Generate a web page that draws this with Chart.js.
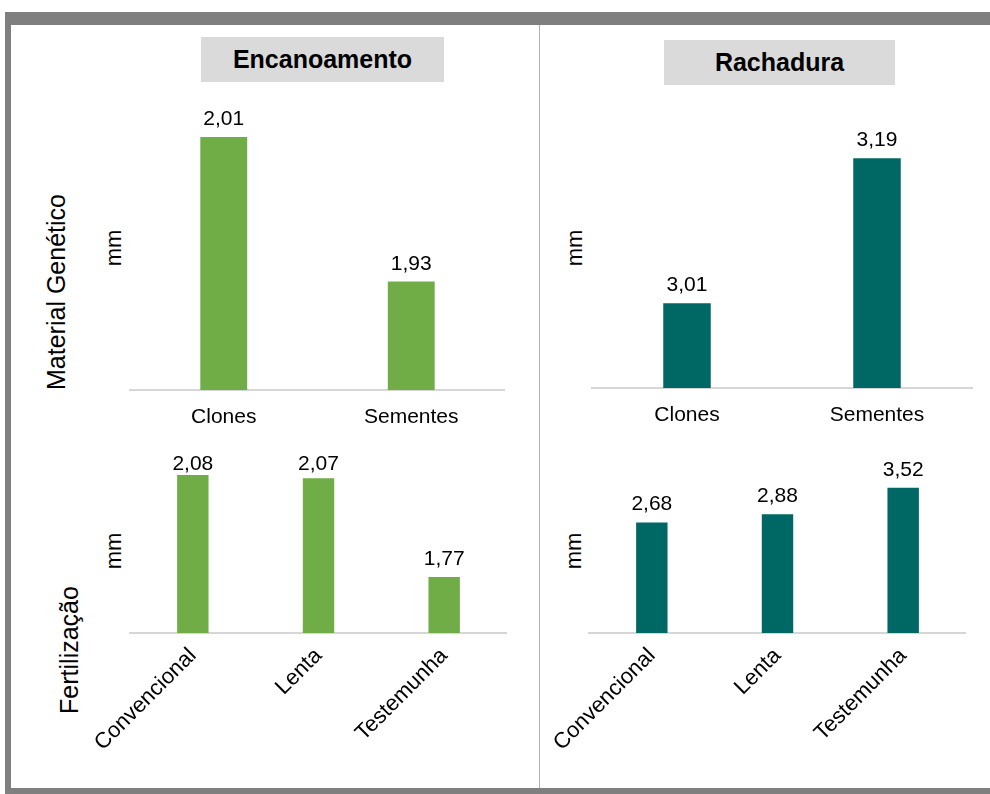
<!DOCTYPE html>
<html>
<head>
<meta charset="utf-8">
<script src="https://cdn.jsdelivr.net/npm/chart.js@4.4.1/dist/chart.umd.min.js"></script>
<style>
  html, body { margin: 0; padding: 0; background: #fff; }
  body { width: 990px; height: 794px; position: relative; overflow: hidden;
         font-family: "Liberation Sans", Arial, sans-serif; color: #000; }
  #frame { position: absolute; left: 5px; top: 12px; width: 985px; height: 763px;
           border-left: 6px solid #7f7f7f; border-top: 13px solid #7f7f7f;
           border-bottom: 6px solid #7f7f7f; box-sizing: content-box; background: #fff; }
  #divider { position: absolute; left: 539px; top: 25px; width: 1px; height: 763px; background: #b0b0b0; }
  .title { position: absolute; background: #dadada; font-weight: bold; font-size: 25px;
           display: flex; align-items: center; justify-content: center; }
  .rot { position: absolute; transform: translate(-50%, -50%) rotate(-90deg);
         white-space: nowrap; line-height: 1; }
  canvas { position: absolute; }
</style>
</head>
<body>
<div id="frame"></div>
<div id="divider"></div>

<div class="title" style="left:201px;top:37px;width:243px;height:45px;">Encanoamento</div>
<div class="title" style="left:664px;top:40px;width:231px;height:45px;">Rachadura</div>

<div class="rot" style="left:56px;top:292px;font-size:25px;">Material Genético</div>
<div class="rot" style="left:69px;top:650px;font-size:25px;">Fertilização</div>

<div class="rot" style="left:114px;top:248px;font-size:22px;">mm</div>
<div class="rot" style="left:575px;top:248px;font-size:22px;">mm</div>
<div class="rot" style="left:114px;top:551px;font-size:22px;">mm</div>
<div class="rot" style="left:574px;top:551px;font-size:22px;">mm</div>

<canvas id="c1" width="425" height="340" style="left:80px;top:90px;"></canvas>
<canvas id="c2" width="400" height="330" style="left:580px;top:100px;"></canvas>
<canvas id="c3" width="427" height="350" style="left:80px;top:440px;"></canvas>
<canvas id="c4" width="417" height="350" style="left:549px;top:440px;"></canvas>

<script>
const materialLabels = ['Clones', 'Sementes'];
const fertLabels = ['Convencional', 'Lenta', 'Testemunha'];

const encMaterial = [2.01, 1.93];
const rachMaterial = [3.01, 3.19];
const encFert = [2.08, 2.07, 1.77];
const rachFert = [2.68, 2.88, 3.52];

const green = '#70ad47';
const teal = '#006864';
const fontFamily = '"Liberation Sans", Arial, sans-serif';

// value labels above bars, comma as decimal separator
const valueLabels = {
    id: 'valueLabels',
    afterDatasetsDraw(chart) {
        const ctx = chart.ctx;
        const meta = chart.getDatasetMeta(0);
        const values = chart.data.datasets[0].data;
        ctx.save();
        ctx.font = '21px ' + fontFamily;
        ctx.fillStyle = '#000';
        ctx.textAlign = 'center';
        ctx.textBaseline = 'alphabetic';
        meta.data.forEach((bar, i) => {
            const y = Math.max(bar.y - 12, chart.chartArea.top);
            ctx.fillText(values[i].toFixed(2).replace('.', ','), bar.x, y);
        });
        ctx.restore();
    }
};

function makeChart(id, labels, values, color, yMin, yMax, pad, axisHeight, rotated) {
    const ctx = document.getElementById(id).getContext('2d');
    return new Chart(ctx, {
        type: 'bar',
        data: {
            labels: labels,
            datasets: [{
                data: values,
                backgroundColor: color,
                categoryPercentage: 1,
                barPercentage: 0.25
            }]
        },
        options: {
            responsive: false,
            animation: false,
            events: [],
            layout: { padding: pad },
            plugins: {
                legend: { display: false },
                tooltip: { enabled: false }
            },
            scales: {
                x: {
                    grid: { display: false, drawTicks: false },
                    border: { display: true, color: '#d6d6d6', width: 2 },
                    ticks: {
                        color: '#000',
                        font: { family: fontFamily, size: rotated ? 22 : 21 },
                        padding: rotated ? 10 : 15,
                        minRotation: rotated ? 45 : 0,
                        maxRotation: rotated ? 45 : 0,
                        autoSkip: false
                    },
                    afterFit(scale) {
                        scale.height = axisHeight;
                        scale.paddingLeft = 0;
                        scale.paddingRight = 0;
                    }
                },
                y: {
                    display: false,
                    min: yMin,
                    max: yMax
                }
            }
        },
        plugins: [valueLabels]
    });
}

// chart areas: c1 x130-505 y110-390, c2 x592-972 y130-388, c3 x130-507 y470-633, c4 x589-966 y470-633
makeChart('c1', materialLabels, encMaterial, green, 1.87, 2.025,
    { left: 50, right: 0, top: 20, bottom: 0 }, 40, false);
makeChart('c2', materialLabels, rachMaterial, teal, 2.905, 3.225,
    { left: 12, right: 8, top: 30, bottom: 0 }, 42, false);
makeChart('c3', fertLabels, encFert, green, 1.6, 2.095,
    { left: 50, right: 0, top: 30, bottom: 0 }, 157, true);
makeChart('c4', fertLabels, rachFert, teal, 0, 3.95,
    { left: 40, right: 0, top: 30, bottom: 0 }, 157, true);
</script>
</body>
</html>
